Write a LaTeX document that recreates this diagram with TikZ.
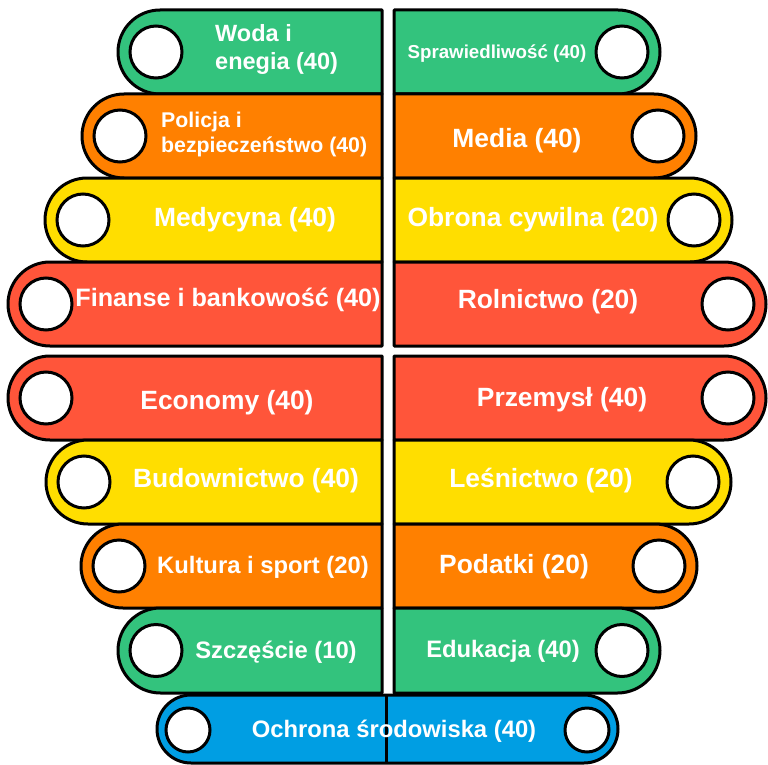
\documentclass[tikz,border=0pt]{standalone}
\usepackage{fontspec}
\setmainfont{Liberation Sans}
\definecolor{cgreen}{RGB}{51,195,125}
\definecolor{corange}{RGB}{255,128,0}
\definecolor{cyellow}{RGB}{255,222,0}
\definecolor{cred}{RGB}{255,85,58}
\definecolor{cblue}{RGB}{0,158,227}
\tikzset{
  band/.style={draw=black, line width=3pt, line join=round},
  hole/.style={draw=black, line width=3pt, fill=white},
  lbl/.style={text=white, anchor=base, inner sep=0pt},
  big/.style={font=\fontsize{26.4}{31}\selectfont\bfseries},
  mid/.style={font=\fontsize{23.8}{28}\selectfont\bfseries},
}
% left band: top, bottom, left extremity, colour
\newcommand\mylband[4]{%
  \pgfmathsetmacro\rr{(#2-#1)/2}
  \draw[band, fill=#4] (382,#1) -- ({#3+\rr},#1) arc[start angle=270, end angle=90, radius=\rr] -- (382,#2) -- cycle;
  \draw[hole] ({#3+38},{(#1+#2)/2}) circle[radius=26];
}
% right band: top, bottom, right extremity, colour
\newcommand\myrband[4]{%
  \pgfmathsetmacro\rr{(#2-#1)/2}
  \draw[band, fill=#4] (394,#1) -- ({#3-\rr},#1) arc[start angle=270, end angle=450, radius=\rr] -- (394,#2) -- cycle;
  \draw[hole] ({#3-38},{(#1+#2)/2}) circle[radius=26];
}
\begin{document}
\begin{tikzpicture}[x=1pt, y=-1pt]
\useasboundingbox (0,0) rectangle (768,765);
% upper half
\mylband{10}{94}{118}{cgreen}
\myrband{10}{94}{660}{cgreen}
\mylband{94}{178}{82}{corange}
\myrband{94}{178}{696}{corange}
\mylband{178}{262}{45}{cyellow}
\myrband{178}{262}{732}{cyellow}
\mylband{262}{346}{8}{cred}
\myrband{262}{346}{766}{cred}
% lower half
\mylband{356}{440}{8}{cred}
\myrband{356}{440}{766}{cred}
\mylband{440}{524}{46}{cyellow}
\myrband{440}{524}{731}{cyellow}
\mylband{524}{608}{81}{corange}
\myrband{524}{608}{697}{corange}
\mylband{608}{693}{118}{cgreen}
\myrband{608}{693}{660}{cgreen}
% bottom blue band
\draw[band, fill=cblue] (191,695) -- (584,695) arc[start angle=270, end angle=450, radius=34] -- (191,763) arc[start angle=90, end angle=270, radius=34] -- cycle;
\draw[line width=3pt] (386,695) -- (386,763);
\draw[hole] (188,730) circle[radius=22];
\draw[hole] (587,730) circle[radius=22];
% labels
\node[lbl, anchor=base west, align=left, font=\fontsize{23.5}{28}\selectfont\bfseries] (woda) at (215,70) {Woda i\\enegia (40)};
\node[lbl, font=\fontsize{18.7}{22}\selectfont\bfseries] (spraw) at (497,59) {Sprawiedliwość (40)};
\node[lbl, anchor=base west, align=left, font=\fontsize{21.3}{25.5}\selectfont\bfseries] (policja) at (161,153) {Policja i\\bezpieczeństwo (40)};
\node[lbl, big] (media) at (517,147) {Media (40)};
\node[lbl, big] (medycyna) at (245,226) {Medycyna (40)};
\node[lbl, big] (obrona) at (533,226) {Obrona cywilna (20)};
\node[lbl, font=\fontsize{25.2}{30}\selectfont\bfseries] (finanse) at (228,306) {Finanse i bankowość (40)};
\node[lbl, big] (rolnictwo) at (548,308) {Rolnictwo (20)};
\node[lbl, big] (economy) at (227,409) {Economy (40)};
\node[lbl, big] (przemysl) at (562,406) {Przemysł (40)};
\node[lbl, big] (budownictwo) at (246,487) {Budownictwo (40)};
\node[lbl, big] (lesnictwo) at (541,487) {Leśnictwo (20)};
\node[lbl, mid] (kultura) at (263,573) {Kultura i sport (20)};
\node[lbl, big] (podatki) at (514,573) {Podatki (20)};
\node[lbl, mid] (szczescie) at (276,658) {Szczęście (10)};
\node[lbl, mid] (edukacja) at (503,657) {Edukacja (40)};
\node[lbl, mid] (ochrona) at (394,737) {Ochrona środowiska (40)};
\end{tikzpicture}
\end{document}
